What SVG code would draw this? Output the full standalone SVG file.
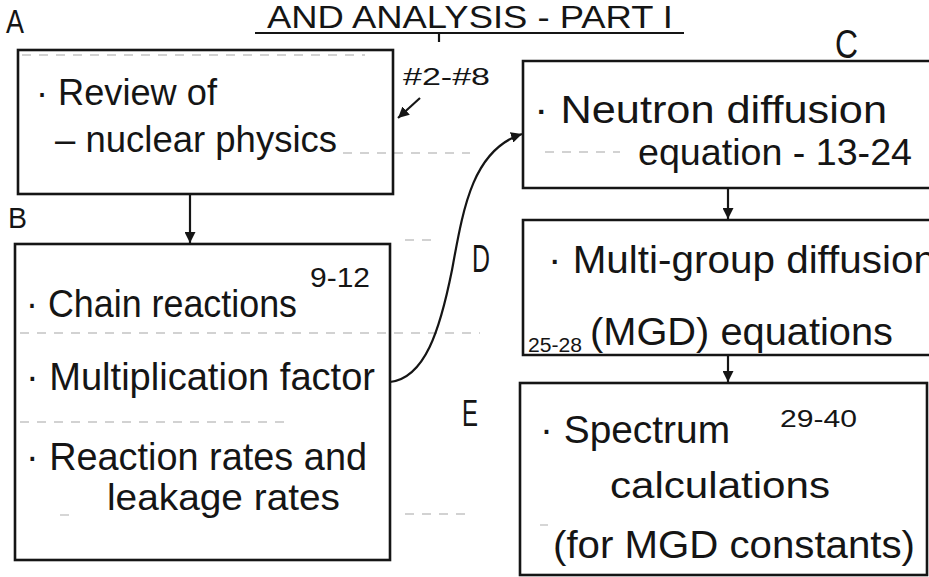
<svg xmlns="http://www.w3.org/2000/svg" width="929" height="577" viewBox="0 0 929 577">
<defs>
<style>
.box{fill:none;stroke:#151515;stroke-width:2.6}
.t{font-family:"Liberation Sans","DejaVu Sans",sans-serif;fill:#151515}
.ln{fill:none;stroke:#151515;stroke-width:2.2}
.faint{stroke:#c4c4c4;stroke-width:1.4;stroke-dasharray:9 8;fill:none}
</style>
<marker id="ah" viewBox="0 0 10 10" refX="10" refY="5" markerWidth="5" markerHeight="5" orient="auto" markerUnits="strokeWidth">
<path d="M0,0 L10,5 L0,10 Z" fill="#151515"/>
</marker>
</defs>
<rect width="929" height="577" fill="#ffffff"/>

<g id="title">
<text class="t" x="267" y="28" font-size="31" textLength="406" lengthAdjust="spacingAndGlyphs">AND ANALYSIS - PART I</text>
<line class="ln" x1="255" y1="33" x2="684" y2="33"/>
<line class="ln" x1="439" y1="33" x2="439" y2="42"/>
</g>

<g id="ruled">
<line class="faint" x1="22" y1="55" x2="365" y2="55"/>
<line class="faint" x1="343" y1="153" x2="470" y2="153"/>
<line class="faint" x1="545" y1="152" x2="620" y2="152"/>
<line class="faint" x1="405" y1="240" x2="435" y2="240"/>
<line class="faint" x1="20" y1="333" x2="480" y2="333"/>
<line class="faint" x1="20" y1="422" x2="290" y2="422"/>
<line class="faint" x1="60" y1="515" x2="70" y2="515"/>
<line class="faint" x1="405" y1="514" x2="470" y2="514"/>
<line class="faint" x1="540" y1="525" x2="548" y2="525"/>
</g>

<g id="labels">
<text class="t" x="6" y="33" font-size="34" textLength="18" lengthAdjust="spacingAndGlyphs">A</text>
<text class="t" x="8" y="228" font-size="30" textLength="19" lengthAdjust="spacingAndGlyphs">B</text>
<text class="t" x="835" y="58" font-size="40" textLength="23" lengthAdjust="spacingAndGlyphs">C</text>
<text class="t" x="472" y="272" font-size="38" textLength="18" lengthAdjust="spacingAndGlyphs">D</text>
<text class="t" x="462" y="426" font-size="36" textLength="16" lengthAdjust="spacingAndGlyphs">E</text>
<text class="t" x="403" y="85" font-size="24" textLength="87" lengthAdjust="spacingAndGlyphs">#2-#8</text>
</g>

<g id="nodeA">
<rect class="box" x="18" y="50" width="375" height="144"/>
<text class="t" x="36" y="105" font-size="36" textLength="181" lengthAdjust="spacingAndGlyphs">· Review of</text>
<text class="t" x="55" y="152" font-size="36" textLength="282" lengthAdjust="spacingAndGlyphs">– nuclear physics</text>
</g>

<g id="nodeB">
<rect class="box" x="15" y="244" width="375" height="316"/>
<text class="t" x="310" y="287" font-size="28" textLength="60" lengthAdjust="spacingAndGlyphs">9-12</text>
<text class="t" x="26" y="317" font-size="38" textLength="271" lengthAdjust="spacingAndGlyphs">· Chain reactions</text>
<text class="t" x="26" y="390" font-size="38" textLength="349" lengthAdjust="spacingAndGlyphs">· Multiplication factor</text>
<text class="t" x="26" y="470" font-size="38" textLength="341" lengthAdjust="spacingAndGlyphs">· Reaction rates and</text>
<text class="t" x="107" y="510" font-size="36" textLength="233" lengthAdjust="spacingAndGlyphs">leakage rates</text>
</g>

<g id="nodeC">
<path class="box" d="M929,61 H523 V188 H929"/>
<text class="t" x="534" y="123" font-size="38" textLength="353" lengthAdjust="spacingAndGlyphs">· Neutron diffusion</text>
<text class="t" x="638" y="165" font-size="36" textLength="274" lengthAdjust="spacingAndGlyphs">equation - 13-24</text>
</g>

<g id="nodeD">
<path class="box" d="M929,220 H523 V355 H929"/>
<text class="t" x="548" y="273" font-size="38" textLength="388" lengthAdjust="spacingAndGlyphs">· Multi-group diffusion</text>
<text class="t" x="590" y="345" font-size="38" textLength="303" lengthAdjust="spacingAndGlyphs">(MGD) equations</text>
<text class="t" x="528" y="352" font-size="20" textLength="54" lengthAdjust="spacingAndGlyphs">25-28</text>
</g>

<g id="nodeE">
<rect class="box" x="520" y="383" width="407" height="192"/>
<text class="t" x="540" y="443" font-size="38" textLength="190" lengthAdjust="spacingAndGlyphs">· Spectrum</text>
<text class="t" x="780" y="427" font-size="24" textLength="77" lengthAdjust="spacingAndGlyphs">29-40</text>
<text class="t" x="610" y="498" font-size="36" textLength="220" lengthAdjust="spacingAndGlyphs">calculations</text>
<text class="t" x="553" y="558" font-size="38" textLength="362" lengthAdjust="spacingAndGlyphs">(for MGD constants)</text>
</g>

<g id="connectors">
<line class="ln" x1="190" y1="194" x2="190" y2="243" marker-end="url(#ah)"/>
<line class="ln" x1="728" y1="188" x2="728" y2="219" marker-end="url(#ah)"/>
<line class="ln" x1="728" y1="355" x2="728" y2="382" marker-end="url(#ah)"/>
<path class="ln" d="M390,382 C425,378 440,330 452,270 C463,210 472,150 522,134" marker-end="url(#ah)"/>
<line class="ln" x1="420" y1="98" x2="398" y2="118" marker-end="url(#ah)"/>
</g>
</svg>
